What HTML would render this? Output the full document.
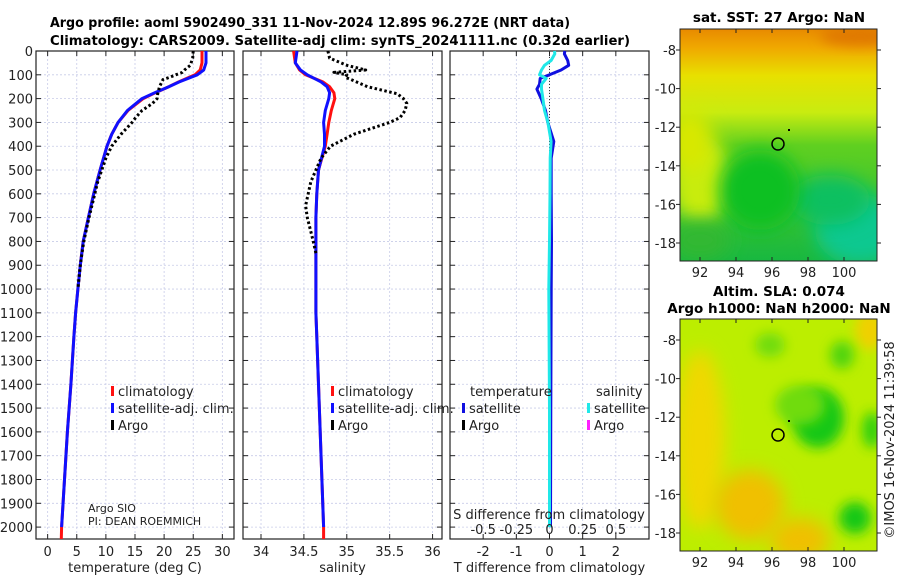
<!DOCTYPE html>
<html><head><meta charset="utf-8">
<style>
html,body{margin:0;padding:0;background:#fff;}
svg{display:block;font-family:"DejaVu Sans","Liberation Sans",sans-serif;}
</style></head>
<body>
<svg id="fig" width="900" height="580" viewBox="0 0 900 580" xmlns="http://www.w3.org/2000/svg">
<defs>
<linearGradient id="sstg" x1="0" y1="0" x2="0" y2="1">
<stop offset="0" stop-color="#e88a00"/>
<stop offset="0.08" stop-color="#f0a800"/>
<stop offset="0.2" stop-color="#e8e000"/>
<stop offset="0.36" stop-color="#c8ec10"/>
<stop offset="0.5" stop-color="#60d020"/>
<stop offset="1" stop-color="#18b840"/>
</linearGradient>
<filter id="bl" x="-50%" y="-50%" width="200%" height="200%"><feGaussianBlur stdDeviation="9"/></filter>
<filter id="bl2" x="-50%" y="-50%" width="200%" height="200%"><feGaussianBlur stdDeviation="6"/></filter>
<clipPath id="c1"><rect x="680" y="29" width="197" height="232"/></clipPath>
<clipPath id="c2"><rect x="680" y="319" width="197" height="232"/></clipPath>
</defs>
<g font-weight="bold" font-size="13" fill="#000">
<text x="50" y="27" textLength="520" lengthAdjust="spacingAndGlyphs">Argo profile: aoml 5902490_331 11-Nov-2024 12.89S 96.272E (NRT data)</text>
<text x="50" y="45" textLength="580" lengthAdjust="spacingAndGlyphs">Climatology: CARS2009. Satellite-adj clim: synTS_20241111.nc (0.32d earlier)</text>
</g>
<g font-weight="bold" font-size="13.5" fill="#000" text-anchor="middle">
<text x="779" y="22">sat. SST: 27 Argo: NaN</text>
<text x="779" y="296">Altim. SLA: 0.074</text>
<text x="779" y="313">Argo h1000: NaN h2000: NaN</text>
</g>
<g id="plots"></g>
<!-- SST map -->
<g clip-path="url(#c1)">
<rect x="680" y="29" width="197" height="232" fill="url(#sstg)"/>
<ellipse cx="700" cy="180" rx="30" ry="45" fill="#c8ec10" filter="url(#bl)"/>
<ellipse cx="690" cy="140" rx="22" ry="30" fill="#d8e800" filter="url(#bl)"/>
<ellipse cx="860" cy="230" rx="45" ry="35" fill="#10c890" filter="url(#bl)"/>
<ellipse cx="830" cy="200" rx="40" ry="25" fill="#10c060" filter="url(#bl)"/>
<ellipse cx="760" cy="190" rx="40" ry="40" fill="#10c020" filter="url(#bl)"/>
<ellipse cx="700" cy="240" rx="30" ry="20" fill="#30b830" filter="url(#bl)"/>
<ellipse cx="860" cy="36" rx="40" ry="10" fill="#e07800" filter="url(#bl2)"/>
<circle cx="778" cy="144" r="6" fill="none" stroke="#000" stroke-width="1.5"/>
<rect x="788" y="129" width="2" height="2" fill="#000"/>
</g>
<rect x="680" y="29" width="197" height="232" fill="none" stroke="#222" stroke-width="1"/>
<!-- SLA map -->
<g clip-path="url(#c2)">
<rect x="680" y="319" width="197" height="232" fill="#bcee00"/>
<ellipse cx="700" cy="440" rx="25" ry="90" fill="#f0d800" filter="url(#bl)"/>
<ellipse cx="750" cy="505" rx="35" ry="35" fill="#f0c000" filter="url(#bl)"/>
<ellipse cx="800" cy="540" rx="30" ry="22" fill="#f0c000" filter="url(#bl)"/>
<ellipse cx="870" cy="330" rx="15" ry="20" fill="#f0d000" filter="url(#bl2)"/>
<ellipse cx="818" cy="418" rx="26" ry="30" fill="#18c818" filter="url(#bl2)"/>
<ellipse cx="800" cy="405" rx="25" ry="20" fill="#70dc10" filter="url(#bl2)"/>
<ellipse cx="855" cy="518" rx="16" ry="16" fill="#18c818" filter="url(#bl2)"/>
<ellipse cx="872" cy="430" rx="10" ry="18" fill="#30d010" filter="url(#bl2)"/>
<ellipse cx="770" cy="345" rx="15" ry="12" fill="#70dc10" filter="url(#bl2)"/>
<ellipse cx="842" cy="355" rx="12" ry="14" fill="#50d410" filter="url(#bl2)"/>
<circle cx="778" cy="435" r="6" fill="none" stroke="#000" stroke-width="1.5"/>
<rect x="788" y="420" width="2" height="2" fill="#000"/>
</g>
<rect x="680" y="319" width="197" height="232" fill="none" stroke="#222" stroke-width="1"/>
<g id="maps"></g>
<text transform="translate(894,440) rotate(-90)" text-anchor="middle" font-size="13" fill="#222">©IMOS 16-Nov-2024 11:39:58</text>
</svg>
<script>
// ---- data ----
const depthTicks = [0,100,200,300,400,500,600,700,800,900,1000,1100,1200,1300,1400,1500,1600,1700,1800,1900,2000];
const tempTicks = [0,5,10,15,20,25,30];
const salTicks = [34,34.5,35,35.5,36];
const salTickLabels = ['34','34.5','35','35.5','36'];
const dTTicks = [-2,-1,0,1,2];
const dSTicks = [-0.5,-0.25,0,0.25,0.5];
const dSTickLabels = ['-0.5','-0.25','0','0.25','0.5'];

const climDepth = [0,50,80,100,130,150,175,200,250,300,350,400,500,600,700,800,900,1000,1100,1200,1400,1600,1800,2000,2050];
const climTemp =  [26.5,26.5,26.2,25.3,22.5,20.8,18.5,16.4,13.8,12.1,11.0,10.2,9.0,7.9,7.0,6.1,5.6,5.2,4.8,4.5,4.0,3.4,2.9,2.4,2.35];
const satTemp =   [27.2,27.2,26.8,25.7,22.6,20.8,18.4,16.2,13.7,12.1,11.0,10.2,9.0,7.9,7.0,6.1,5.6,5.2,4.8,4.5,4.0,3.4,2.9,2.4,null];
const climSal =   [34.38,34.40,34.45,34.52,34.72,34.80,34.85,34.86,34.82,34.79,34.77,34.75,34.67,34.65,34.64,34.64,34.64,34.64,34.64,34.65,34.67,34.69,34.71,34.73,34.73];
const satSal =    [34.42,34.40,34.46,34.54,34.70,34.77,34.80,34.79,34.75,34.73,34.74,34.74,34.67,34.65,34.64,34.64,34.64,34.64,34.64,34.65,34.67,34.69,34.71,34.73,null];

const argoDepth = [0,30,60,80,90,100,110,120,150,180,200,220,250,280,300,350,400,450,500,550,600,650,700,800,850,900,1000];
const argoTemp =  [25.0,24.9,24.5,23.5,23.1,22.0,21.0,19.8,19.2,18.9,18.8,18.0,16.2,15.1,14.5,12.6,11.0,10.0,9.3,8.6,8.1,7.6,7.1,6.2,5.9,5.6,5.2];
const argoSal =   [34.78,34.80,35.00,35.22,34.85,35.00,34.98,35.05,35.24,35.59,35.66,35.70,35.68,35.62,35.50,35.08,34.81,34.70,34.64,34.58,34.55,34.52,34.54,34.61,34.64,null,null];

const diffDepth = [0,12,40,60,80,100,115,140,160,200,250,300,380,450,600,800,1000,1500,2000];
const diffTsat =  [0.46,0.45,0.55,0.58,0.35,0.0,-0.28,-0.30,-0.38,-0.25,-0.12,-0.05,0.13,0.05,0.05,0.06,0.05,0.04,0.03];
const diffSsat =  [0.038,0.04,0.012,-0.038,-0.06,-0.075,-0.025,-0.06,-0.06,-0.05,-0.038,-0.012,0.012,0.005,0.004,0.0,-0.005,0.0,0.0];
const argoDiffDepth = [0,550];
const argoDiffT = [0,0];

// ---- layout ----
const NS='http://www.w3.org/2000/svg';
const plots=document.getElementById('plots');
const Y0=51, Y1=539, DMAX=2050;
const yScale=d=>Y0+(d/DMAX)*(Y1-Y0);
function el(tag,attrs,parent){const e=document.createElementNS(NS,tag);for(const k in attrs)e.setAttribute(k,attrs[k]);(parent||plots).appendChild(e);return e;}
function txt(x,y,s,attrs){const t=el('text',Object.assign({x:x,y:y,'font-size':13,fill:'#222'},attrs||{}));t.textContent=s;return t;}

const panels=[
 {name:'temperature-panel',x0:36,x1:234,dom:[-2,32],ticks:tempTicks,labels:tempTicks.map(String),title:'temperature (deg C)'},
 {name:'salinity-panel',x0:243,x1:442,dom:[33.79,36.11],ticks:salTicks,labels:salTickLabels,title:'salinity'},
 {name:'difference-panel',x0:450,x1:649,dom:[-3,3],ticks:dTTicks,labels:dTTicks.map(String),title:'T difference from climatology'}
];
panels.forEach(p=>{p.xs=v=>p.x0+(v-p.dom[0])/(p.dom[1]-p.dom[0])*(p.x1-p.x0);});

panels.forEach((p,i)=>{
  const g=el('g',{});
  
  
  depthTicks.forEach(d=>{
    const y=yScale(d);
    el('line',{x1:p.x0,x2:p.x1,y1:y,y2:y,stroke:'#c8cce8','stroke-width':0.8,'stroke-dasharray':'2,2'},g);
    el('line',{x1:p.x0,x2:p.x0+5,y1:y,y2:y,stroke:'#222','stroke-width':1},g);
    el('line',{x1:p.x1-5,x2:p.x1,y1:y,y2:y,stroke:'#222','stroke-width':1},g);
  });
  p.ticks.forEach((v,k)=>{
    const x=p.xs(v);
    el('line',{x1:x,x2:x,y1:Y0,y2:Y1,stroke:'#c8cce8','stroke-width':0.8,'stroke-dasharray':'2,2'},g);
    el('line',{x1:x,x2:x,y1:Y1-5,y2:Y1,stroke:'#222'},g);
    el('line',{x1:x,x2:x,y1:Y0,y2:Y0+5,stroke:'#222'},g);
    const t=txt(x,556,p.labels[k],{'text-anchor':'middle'});
    
    
  });
  el('rect',{x:p.x0,y:Y0,width:p.x1-p.x0,height:Y1-Y0,fill:'none',stroke:'#222','stroke-width':1.2},g);
  const tt=txt((p.x0+p.x1)/2,572,p.title,{'text-anchor':'middle'});
  
  
});
// y tick labels
depthTicks.forEach(d=>{
  const t=txt(33,yScale(d)+5,String(d),{'text-anchor':'end'});
  
  
});

function line(p,depths,vals,attrs,name){
  let dstr='',pen=false;
  depths.forEach((d,i)=>{const v=vals[i];if(v===null||v===undefined){pen=false;return;}
    dstr+=(pen?'L':'M')+p.xs(v).toFixed(1)+','+yScale(d).toFixed(1);pen=true;});
  const e=el('path',Object.assign({d:dstr,fill:'none','stroke-linejoin':'round'},attrs));
  
  
  return e;
}
const [pT,pS,pD]=panels;
line(pT,climDepth,climTemp,{stroke:'#ff1010','stroke-width':3},'temp-climatology-line');
line(pT,climDepth,satTemp,{stroke:'#1010ff','stroke-width':3},'temp-satellite-line');
line(pT,argoDepth,argoTemp,{stroke:'#000','stroke-width':3,'stroke-dasharray':'2.5,2.5'},'temp-argo-line');
line(pS,climDepth,climSal,{stroke:'#ff1010','stroke-width':3},'sal-climatology-line');
line(pS,climDepth,satSal,{stroke:'#1010ff','stroke-width':3},'sal-satellite-line');
line(pS,argoDepth,argoSal,{stroke:'#000','stroke-width':3,'stroke-dasharray':'2.5,2.5'},'sal-argo-line');
line(pD,argoDiffDepth,argoDiffT,{stroke:'#333','stroke-width':1,'stroke-dasharray':'1,2'},'argo-diff-line');
line(pD,diffDepth,diffTsat,{stroke:'#1010e0','stroke-width':3},'temp-diff-satellite-line');
line(pD,diffDepth,diffSsat.map(v=>v*4),{stroke:'#20e8e8','stroke-width':3},'sal-diff-satellite-line');

// S axis labels inside difference panel
dSTicks.forEach((v,k)=>{
  const t=txt(pD.xs(v*4),534,dSTickLabels[k],{'text-anchor':'middle'});
  
  
});
const sdt=txt(549,519,'S difference from climatology',{'text-anchor':'middle'});



// legends
function legend(x,y,color,label,name){
  const r=el('rect',{x:x,y:y-10,width:3,height:10,fill:color});
  
  
  const t=txt(x+7,y,label);
  
  
}
legend(111,396,'#ff1010','climatology','legend-temp-climatology');
legend(111,413,'#1010ff','satellite-adj. clim.','legend-temp-satellite');
legend(111,430,'#000','Argo','legend-temp-argo');
legend(331,396,'#ff1010','climatology','legend-sal-climatology');
legend(331,413,'#1010ff','satellite-adj. clim.','legend-sal-satellite');
legend(331,430,'#000','Argo','legend-sal-argo');
const lt=txt(470,396,'temperature');
const ls=txt(596,396,'salinity');
legend(462,413,'#1010e0','satellite','legend-tdiff-satellite');
legend(462,430,'#000','Argo','legend-tdiff-argo');
legend(587,413,'#20e8e8','satellite','legend-sdiff-satellite');
legend(587,430,'#ff20ff','Argo','legend-sdiff-argo');
const a1=txt(88,512,'Argo SIO',{'font-size':11});
const a2=txt(88,525,'PI: DEAN ROEMMICH',{'font-size':11});

// map axes
const maps=document.getElementById('maps');
const lonTicks=[92,94,96,98,100];
const latTicks=[-8,-10,-12,-14,-16,-18];
const lonX=l=>700+(l-92)*18;
[[29,261,50],[319,551,340]].forEach(([top,bot,y8],mi)=>{
  const latY=l=>y8+(-8-l)*19.3;
  lonTicks.forEach(l=>{
    const x=lonX(l);
    el('line',{x1:x,x2:x,y1:bot-4,y2:bot,stroke:'#222'},maps);
    el('line',{x1:x,x2:x,y1:top,y2:top+4,stroke:'#222'},maps);
    const t=txt(x,bot+16,String(l),{'text-anchor':'middle'},maps);
    maps.appendChild(t);
    
    
  });
  latTicks.forEach(l=>{
    const y=latY(l);
    el('line',{x1:676,x2:680,y1:y,y2:y,stroke:'#222'},maps);
    el('line',{x1:877,x2:881,y1:y,y2:y,stroke:'#222'},maps);
    const t=txt(676,y+5,String(l),{'text-anchor':'end'});
    maps.appendChild(t);
    
    
  });
});
</script>
</body></html>
